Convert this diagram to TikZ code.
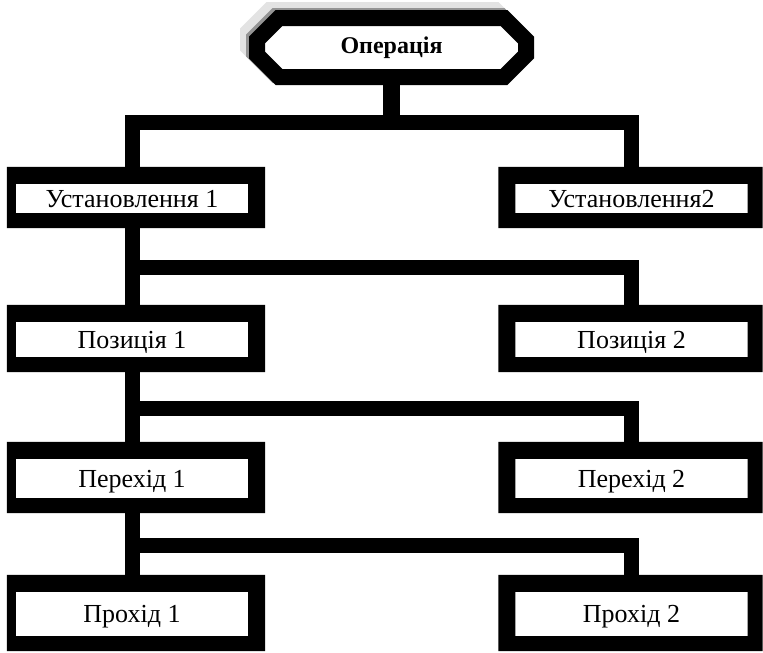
\documentclass[tikz,border=0pt]{standalone}
\usepackage{fontspec}
\setmainfont{Liberation Serif}
\usetikzlibrary{shapes.misc,calc}

% black frame round a stage box: #1 node, #2 left margin, #3 right margin
\newcommand\stageframe[3]{%
  \fill[black, even odd rule]
    ($(#1.north west)+(-#2,-17)$) rectangle ($(#1.south east)+(#3,15)$)
    (#1.north west) rectangle (#1.south east);}

\begin{document}
\begin{tikzpicture}[x=1pt, y=-1pt,
  stage/.style={rectangle, fill=white, inner sep=0pt, minimum width=232pt,
    text height=17pt, text depth=0pt, font=\fontsize{26}{29}\selectfont},
  link/.style={line width=15pt, line join=miter, line cap=butt},
  opbox/.style={chamfered rectangle, chamfered rectangle xsep=11pt,
    chamfered rectangle ysep=11pt, draw, line width=16pt, fill=white,
    inner sep=0pt, minimum width=269pt, minimum height=59pt,
    text height=17pt, text depth=5pt,
    font=\fontsize{24}{28}\selectfont\bfseries,
    preaction={draw=black!11, fill=black!11,
      transform canvas={shift={(-9pt,8pt)}}},
    preaction={draw=black!42, fill=black!42,
      transform canvas={shift={(-3pt,2pt)}}}}]

\useasboundingbox (0,0) rectangle (763,653);
\fill[white] (0,0) rectangle (763,653);

% top node
\node[opbox] (op) at (391.5,47.5) {Операція};

% left column
\node[stage, minimum height=29pt] (u1) at (132,198.5) {Установлення 1};
\node[stage, minimum height=35pt] (p1) at (132,339.5) {Позиція 1};
\node[stage, minimum height=39pt] (r1) at (132,478.5) {Перехід 1};
\node[stage, minimum height=44pt] (x1) at (132,614) {Прохід 1};

% right column
\node[stage, minimum height=29pt] (u2) at (631.5,198.5) {Установлення2};
\node[stage, minimum height=35pt] (p2) at (631.5,339.5) {Позиція 2};
\node[stage, minimum height=39pt] (r2) at (631.5,478.5) {Перехід 2};
\node[stage, minimum height=44pt] (x2) at (631.5,614) {Прохід 2};

\stageframe{u1}{9}{17}
\stageframe{p1}{9}{17}
\stageframe{r1}{9}{17}
\stageframe{x1}{9}{17}
\stageframe{u2}{17}{15}
\stageframe{p2}{17}{15}
\stageframe{r2}{17}{15}
\stageframe{x2}{17}{15}

% connectors
\coordinate (j1) at (391.5,122.5);
\draw[link, line width=17pt] (op.south) -- (j1);
\draw[link] (u1.north) |- (j1) -| (u2.north);

\draw[link] (u1.south) -- (p1.north);
\draw[link] ($(u1.south)!.5!(p1.north)$) -| (p2.north);

\draw[link] (p1.south) -- (r1.north);
\draw[link] ($(p1.south)!.5!(r1.north)$) -| (r2.north);

\draw[link] (r1.south) -- (x1.north);
\draw[link] ($(r1.south)!.5!(x1.north)$) -| (x2.north);
\end{tikzpicture}
\end{document}
